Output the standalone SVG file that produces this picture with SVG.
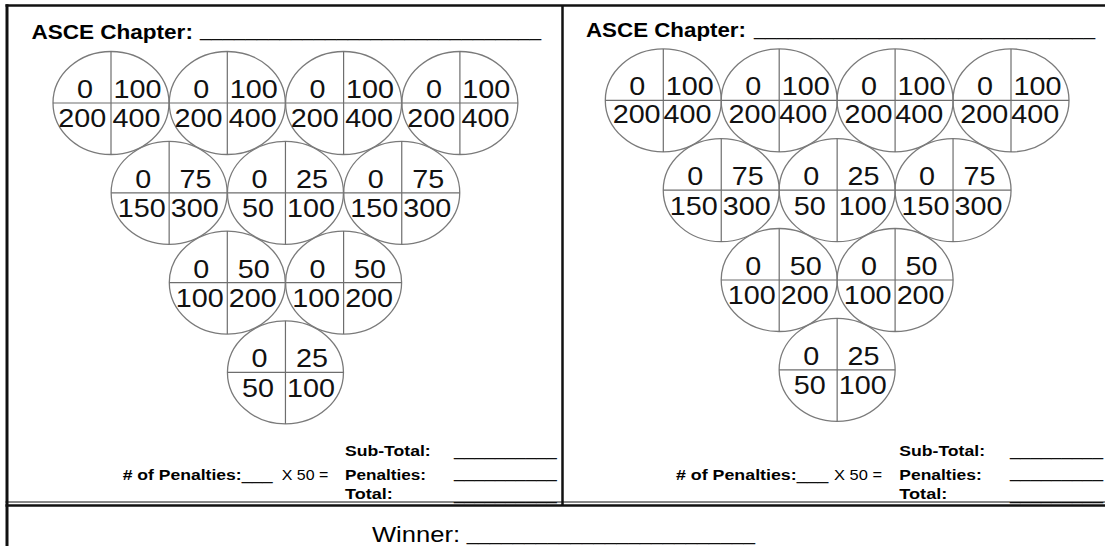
<svg xmlns="http://www.w3.org/2000/svg" xmlns:xlink="http://www.w3.org/1999/xlink" width="1105" height="546" viewBox="0 0 1105 546">
<style>
.fr{stroke:#111;fill:none}
.pe{fill:none;stroke:#7a7a7a;stroke-width:1.3}
.pl{stroke:#6e6e6e;stroke-width:1.2}
.n{font-family:'Liberation Sans',Arial,sans-serif;font-size:25px;fill:#111;text-anchor:middle}
.h{font-family:'Liberation Sans',Arial,sans-serif;font-weight:bold;font-size:20px;fill:#000}
.fb{font-family:'Liberation Sans',Arial,sans-serif;font-weight:bold;font-size:14.5px;fill:#000}
.fr2{font-family:'Liberation Sans',Arial,sans-serif;font-size:14.5px;fill:#000}
.w{font-family:'Liberation Sans',Arial,sans-serif;font-size:22px;fill:#000}
.u{font-family:'Liberation Sans',Arial,sans-serif;font-size:18px;fill:#111}
</style>
<defs>
<g id="pin">
<ellipse class="pe" cx="0" cy="0" rx="58" ry="51.5"/>
<line class="pl" x1="0" y1="-51.5" x2="0" y2="51.5"/>
<line class="pl" x1="-58" y1="0" x2="58" y2="0"/>
</g>
</defs>
<rect width="1105" height="546" fill="#fff"/>
<g id="frame">
<line class="fr" x1="5.5" y1="5.5" x2="1105" y2="5.5" stroke-width="2.5"/>
<line class="fr" x1="7" y1="4.3" x2="7" y2="546" stroke-width="3"/>
<line class="fr" x1="562.5" y1="5" x2="562.5" y2="505" stroke-width="2.5"/>
<line class="fr" x1="5.5" y1="502" x2="1105" y2="502" stroke-width="1" stroke="#555"/>
<line class="fr" x1="5.5" y1="505.5" x2="1105" y2="505.5" stroke-width="2.5"/>
</g>
<g id="left-header">
<text class="h" x="31.4" y="38.6" textLength="161.5" lengthAdjust="spacingAndGlyphs">ASCE Chapter:</text>
<text class="u" x="200" y="36" textLength="341" lengthAdjust="spacingAndGlyphs">______________________________</text>
</g>
<g id="right-header">
<text class="h" x="586" y="36.5" textLength="160" lengthAdjust="spacingAndGlyphs">ASCE Chapter:</text>
<text class="u" x="754" y="35.2" textLength="341" lengthAdjust="spacingAndGlyphs">______________________________</text>
</g>
<g id="L1" transform="translate(111,103)"><use xlink:href="#pin"/><g transform="scale(1.15,1)"><text class="n" x="-22.6" y="-5.5">0</text><text class="n" x="23" y="-5.5">100</text><text class="n" x="-25" y="24">200</text><text class="n" x="22.2" y="24">400</text></g></g>
<g id="L2" transform="translate(227.3,103)"><use xlink:href="#pin"/><g transform="scale(1.15,1)"><text class="n" x="-22.6" y="-5.5">0</text><text class="n" x="23" y="-5.5">100</text><text class="n" x="-25" y="24">200</text><text class="n" x="22.2" y="24">400</text></g></g>
<g id="L3" transform="translate(343.6,103)"><use xlink:href="#pin"/><g transform="scale(1.15,1)"><text class="n" x="-22.6" y="-5.5">0</text><text class="n" x="23" y="-5.5">100</text><text class="n" x="-25" y="24">200</text><text class="n" x="22.2" y="24">400</text></g></g>
<g id="L4" transform="translate(459.9,103)"><use xlink:href="#pin"/><g transform="scale(1.15,1)"><text class="n" x="-22.6" y="-5.5">0</text><text class="n" x="23" y="-5.5">100</text><text class="n" x="-25" y="24">200</text><text class="n" x="22.2" y="24">400</text></g></g>
<g id="L5" transform="translate(169.15,192.8)"><use xlink:href="#pin"/><g transform="scale(1.15,1)"><text class="n" x="-22.6" y="-5">0</text><text class="n" x="23" y="-5">75</text><text class="n" x="-23.9" y="24.5">150</text><text class="n" x="22.2" y="24.5">300</text></g></g>
<g id="L6" transform="translate(285.45,192.8)"><use xlink:href="#pin"/><g transform="scale(1.15,1)"><text class="n" x="-22.6" y="-5">0</text><text class="n" x="23" y="-5">25</text><text class="n" x="-23.9" y="24.5">50</text><text class="n" x="22.2" y="24.5">100</text></g></g>
<g id="L7" transform="translate(401.75,192.8)"><use xlink:href="#pin"/><g transform="scale(1.15,1)"><text class="n" x="-22.6" y="-5">0</text><text class="n" x="23" y="-5">75</text><text class="n" x="-23.9" y="24.5">150</text><text class="n" x="22.2" y="24.5">300</text></g></g>
<g id="L8" transform="translate(227.3,282.6)"><use xlink:href="#pin"/><g transform="scale(1.15,1)"><text class="n" x="-22.6" y="-5">0</text><text class="n" x="23" y="-5">50</text><text class="n" x="-23.9" y="24.5">100</text><text class="n" x="22.2" y="24.5">200</text></g></g>
<g id="L9" transform="translate(343.6,282.6)"><use xlink:href="#pin"/><g transform="scale(1.15,1)"><text class="n" x="-22.6" y="-5">0</text><text class="n" x="23" y="-5">50</text><text class="n" x="-23.9" y="24.5">100</text><text class="n" x="22.2" y="24.5">200</text></g></g>
<g id="L10" transform="translate(285.45,372.4)"><use xlink:href="#pin"/><g transform="scale(1.15,1)"><text class="n" x="-22.6" y="-5">0</text><text class="n" x="23" y="-5">25</text><text class="n" x="-23.9" y="24.5">50</text><text class="n" x="22.2" y="24.5">100</text></g></g>
<g id="R1" transform="translate(663.3,100.4)"><use xlink:href="#pin"/><g transform="scale(1.15,1)"><text class="n" x="-22.6" y="-5.5">0</text><text class="n" x="23" y="-5.5">100</text><text class="n" x="-23.2" y="23">200</text><text class="n" x="21" y="23">400</text></g></g>
<g id="R2" transform="translate(779.2,100.4)"><use xlink:href="#pin"/><g transform="scale(1.15,1)"><text class="n" x="-22.6" y="-5.5">0</text><text class="n" x="23" y="-5.5">100</text><text class="n" x="-23.2" y="23">200</text><text class="n" x="21" y="23">400</text></g></g>
<g id="R3" transform="translate(895.1,100.4)"><use xlink:href="#pin"/><g transform="scale(1.15,1)"><text class="n" x="-22.6" y="-5.5">0</text><text class="n" x="23" y="-5.5">100</text><text class="n" x="-23.2" y="23">200</text><text class="n" x="21" y="23">400</text></g></g>
<g id="R4" transform="translate(1011,100.4)"><use xlink:href="#pin"/><g transform="scale(1.15,1)"><text class="n" x="-22.6" y="-5.5">0</text><text class="n" x="23" y="-5.5">100</text><text class="n" x="-23.2" y="23">200</text><text class="n" x="21" y="23">400</text></g></g>
<g id="R5" transform="translate(721.25,190.2)"><use xlink:href="#pin"/><g transform="scale(1.15,1)"><text class="n" x="-22.6" y="-5">0</text><text class="n" x="23" y="-5">75</text><text class="n" x="-23.9" y="24.5">150</text><text class="n" x="22.2" y="24.5">300</text></g></g>
<g id="R6" transform="translate(837.15,190.2)"><use xlink:href="#pin"/><g transform="scale(1.15,1)"><text class="n" x="-22.6" y="-5">0</text><text class="n" x="23" y="-5">25</text><text class="n" x="-23.9" y="24.5">50</text><text class="n" x="22.2" y="24.5">100</text></g></g>
<g id="R7" transform="translate(953.05,190.2)"><use xlink:href="#pin"/><g transform="scale(1.15,1)"><text class="n" x="-22.6" y="-5">0</text><text class="n" x="23" y="-5">75</text><text class="n" x="-23.9" y="24.5">150</text><text class="n" x="22.2" y="24.5">300</text></g></g>
<g id="R8" transform="translate(779.2,280)"><use xlink:href="#pin"/><g transform="scale(1.15,1)"><text class="n" x="-22.6" y="-5">0</text><text class="n" x="23" y="-5">50</text><text class="n" x="-23.9" y="24.5">100</text><text class="n" x="22.2" y="24.5">200</text></g></g>
<g id="R9" transform="translate(895.1,280)"><use xlink:href="#pin"/><g transform="scale(1.15,1)"><text class="n" x="-22.6" y="-5">0</text><text class="n" x="23" y="-5">50</text><text class="n" x="-23.9" y="24.5">100</text><text class="n" x="22.2" y="24.5">200</text></g></g>
<g id="R10" transform="translate(837.15,369.8)"><use xlink:href="#pin"/><g transform="scale(1.15,1)"><text class="n" x="-22.6" y="-5">0</text><text class="n" x="23" y="-5">25</text><text class="n" x="-23.9" y="24.5">50</text><text class="n" x="22.2" y="24.5">100</text></g></g>
<g id="left-footer">
<text class="fb" x="345" y="455.7" textLength="85.7" lengthAdjust="spacingAndGlyphs">Sub-Total:</text>
<text class="fb" x="122.7" y="480" textLength="119" lengthAdjust="spacingAndGlyphs"># of Penalties:</text>
<text class="u" x="241.7" y="478.5" textLength="31" lengthAdjust="spacingAndGlyphs">___</text>
<text class="fr2" x="281.7" y="480" textLength="46.6" lengthAdjust="spacingAndGlyphs">X 50 =</text>
<text class="fb" x="345" y="480" textLength="81" lengthAdjust="spacingAndGlyphs">Penalties:</text>
<text class="fb" x="345" y="499" textLength="47.7" lengthAdjust="spacingAndGlyphs">Total:</text>
<text class="u" x="454" y="455.3" textLength="102.7" lengthAdjust="spacingAndGlyphs">__________</text>
<text class="u" x="454" y="476.8" textLength="102.7" lengthAdjust="spacingAndGlyphs">__________</text>
<text class="u" x="454" y="499" textLength="102.7" lengthAdjust="spacingAndGlyphs">__________</text>
</g>
<g id="right-footer">
<text class="fb" x="899.3" y="455.7" textLength="85.7" lengthAdjust="spacingAndGlyphs">Sub-Total:</text>
<text class="fb" x="676" y="480" textLength="120.7" lengthAdjust="spacingAndGlyphs"># of Penalties:</text>
<text class="u" x="796.7" y="478.5" textLength="31.6" lengthAdjust="spacingAndGlyphs">___</text>
<text class="fr2" x="834" y="480" textLength="48" lengthAdjust="spacingAndGlyphs">X 50 =</text>
<text class="fb" x="899.3" y="480" textLength="82.4" lengthAdjust="spacingAndGlyphs">Penalties:</text>
<text class="fb" x="899.3" y="499" textLength="48" lengthAdjust="spacingAndGlyphs">Total:</text>
<text class="u" x="1010" y="455.3" textLength="93" lengthAdjust="spacingAndGlyphs">_________</text>
<text class="u" x="1010" y="476.8" textLength="93" lengthAdjust="spacingAndGlyphs">_________</text>
<text class="u" x="1010" y="499" textLength="93" lengthAdjust="spacingAndGlyphs">_________</text>
</g>
<g id="winner">
<text class="w" x="372" y="542" textLength="88" lengthAdjust="spacingAndGlyphs">Winner:</text>
<text class="u" x="466.7" y="540" textLength="288.3" lengthAdjust="spacingAndGlyphs">_________________________</text>
</g>
</svg>
